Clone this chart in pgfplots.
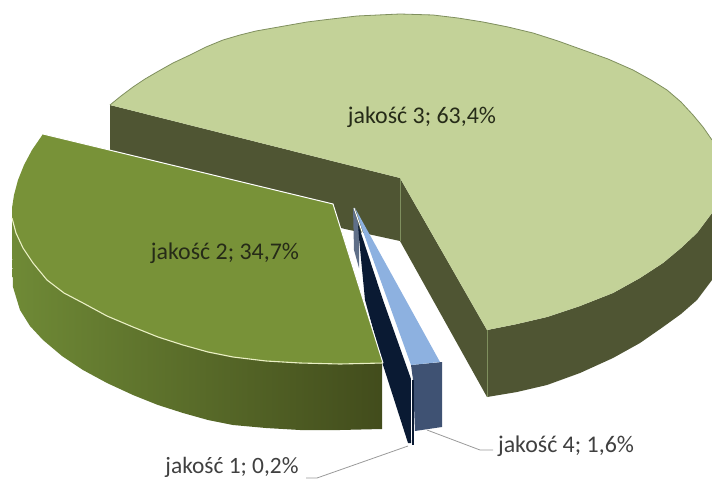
\documentclass[border=0pt]{standalone}
\usepackage{pgfplots}
\usepackage{fontspec}
\pgfplotsset{compat=1.18}
\setmainfont{Carlito}
\definecolor{topC}{HTML}{C3D298}
\definecolor{sideC}{HTML}{4F5533}
\definecolor{edgeC}{HTML}{7F8F5E}
\definecolor{topB}{HTML}{789238}
\definecolor{sideBl}{HTML}{6F8A36}
\definecolor{sideBm}{HTML}{586F28}
\definecolor{sideBr}{HTML}{424C1C}
\definecolor{rimB}{HTML}{EAF0C4}
\definecolor{navy}{HTML}{0A1A33}
\definecolor{stripe}{HTML}{5F6F88}
\definecolor{topD}{HTML}{8DB1E0}
\definecolor{sideD}{HTML}{3F5273}
\definecolor{leader}{HTML}{9A9A9A}
\definecolor{labeltxt}{HTML}{262B18}
\begin{document}
\begin{tikzpicture}
\begin{axis}[
  scale only axis, width=712bp, height=479bp,
  xmin=0, xmax=712, ymin=0, ymax=479, y dir=reverse,
  axis lines=none, clip=true,
]
% jakość 3: cut faces, outer wall, top
\addplot[draw=none, fill=sideC] coordinates {(110,105) (400,178) (400,241) (345,229) (110,170)} --cycle;
\addplot[draw=none, fill=sideC] coordinates {(400,178) (487,330) (487,397) (400,241)} --cycle;
\addplot[draw=none, fill=sideC] coordinates {(487,330) (517,324) (547,317) (580,306) (613,293) (640,278) (663,263) (681,248) (697,233) (712,213)
   (712,280) (697,300) (681,314) (663,327) (640,343) (613,358) (580,373) (547,385) (517,392) (487,397)} --cycle;
\addplot[edgeC, line width=0.8bp] coordinates {(400,178) (400,241)};
\addplot[edgeC, line width=0.8bp] coordinates {(487,330) (487,397)};
\addplot[draw=none, fill=topC] coordinates {(400,178) (110,105) (121,96) (133,87) (145,79) (157,72) (173,63) (190,55) (206,47) (223,40) (240,35) (256,31) (273,28) (290,25) (307,22) (323,20) (340,18) (357,16) (378,15) (400,14)
   (433,15) (458,18) (483,22) (508,27) (533,33) (558,41) (583,50) (608,59) (633,70) (651,80) (667,90) (681,102) (693,115) (703,127) (712,140) (712,213) (697,233) (681,248) (663,263) (640,278) (613,293)
   (580,306) (547,317) (517,324) (487,330)} --cycle;
\addplot[edgeC, line width=0.8bp] coordinates {(110,105) (121,96) (133,87) (145,79) (157,72) (173,63) (190,55) (206,47) (223,40) (240,35) (256,31) (273,28) (290,25) (307,22) (323,20) (340,18) (357,16) (378,15) (400,14)
   (433,15) (458,18) (483,22) (508,27) (533,33) (558,41) (583,50) (608,59) (633,70) (651,80) (667,90) (681,102) (693,115) (703,127) (712,140)};

% jakość 4: wall and top
\addplot[draw=none, fill=sideD] coordinates {(411,365) (442,362) (442,427) (415,431) (413,380)} --cycle;
\addplot[draw=none, fill=topD] coordinates {(355,208) (440,362) (411,365) (361,226)} --cycle;

% jakość 1: thin wedge and its dark cut face
\addplot[draw=none, fill=stripe] coordinates {(353,207) (359,226) (359,268) (354,250)} --cycle;
\addplot[draw=none, fill=navy] coordinates {(358,224) (383,300) (411,379) (411,443) (408,443) (383,365) (365,300) (359,238)} --cycle;
\addplot[white, line width=1bp] coordinates {(354,208) (412,378)};
\addplot[white, line width=1bp] coordinates {(411,379) (411,440)};
\addplot[navy, line width=1.6bp] coordinates {(413,380) (413,445)};

% jakość 2: outer wall, top, rims
\addplot[draw=none, left color=sideBl, middle color=sideBm, right color=sideBr] coordinates {(12,218) (16,233) (23,248) (33,263) (47,280) (64,293) (83,303) (107,316) (133,327) (158,337) (183,345) (208,352) (233,357) (266,361) (300,363) (340,364) (382,363)
   (382,429) (340,430) (300,430) (266,428) (233,425) (208,420) (183,413) (158,405) (133,395) (107,383) (83,370) (62,356) (43,340) (30,326) (20,310) (13,287) (12,250)} --cycle;
\addplot[draw=none, fill=topB] coordinates {(43,134) (333,204) (383,363) (340,364) (300,363) (266,361) (233,357) (208,352) (183,345) (158,337) (133,327) (107,316) (83,303) (64,293) (47,280) (33,263) (23,248) (16,233) (12,218) (12,208) (14,195) (18,180) (24,165) (32,150)} --cycle;
\addplot[rimB, line width=1.1bp] coordinates {(12,218) (16,233) (23,248) (33,263) (47,280) (64,293) (83,303) (107,316) (133,327) (158,337) (183,345) (208,352) (233,357) (266,361) (300,363) (340,364) (383,363)};
\addplot[white, line width=1bp] coordinates {(43,134) (333,204) (383,363)};

% leader lines
\addplot[leader, line width=0.8bp] coordinates {(427,430) (480,450) (493,450)};
\addplot[leader, line width=0.8bp] coordinates {(408,446) (317,478) (306,478)};

% data labels
\node[font=\fontsize{24}{28}\selectfont, text=labeltxt, inner sep=0pt] at (axis cs:422,117) {jakość 3; 63,4\%};
\node[font=\fontsize{24}{28}\selectfont, text=labeltxt, inner sep=0pt] at (axis cs:225,253) {jakość 2; 34,7\%};
\node[font=\fontsize{24}{28}\selectfont, text=black!75, inner sep=0pt] at (axis cs:566,446) {jakość 4; 1,6\%};
\node[font=\fontsize{23.5}{28}\selectfont, text=black!75, inner sep=0pt] at (axis cs:232,467.5) {jakość 1; 0,2\%};
\end{axis}
\path (0,0) rectangle (712bp,479bp);
\end{tikzpicture}
\end{document}
